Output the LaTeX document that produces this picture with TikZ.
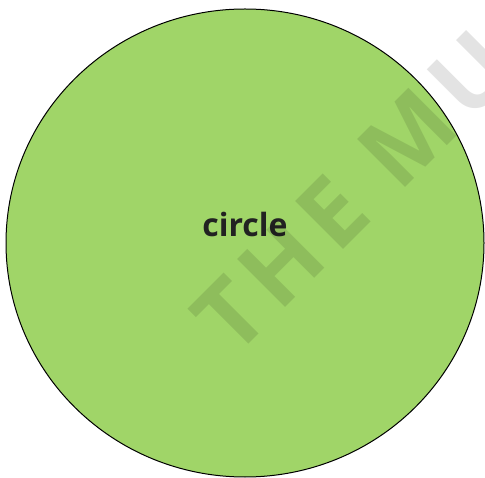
\documentclass[tikz,border=0pt]{standalone}
\usepackage{fontspec}
\setmainfont{Open Sans}
\newfontfamily\wmfont[LetterSpace=10]{Open Sans}
\definecolor{fillgreen}{HTML}{A0D568}
\definecolor{textdark}{HTML}{222222}
\begin{document}
\begin{tikzpicture}[x=1pt,y=1pt,
  shapeline/.style={draw=black, line width=1pt, fill=fillgreen},
  labeltext/.style={font=\fontsize{32}{32}\selectfont\bfseries, text=textdark, inner sep=0pt},
  watermark/.style={font=\wmfont\fontsize{95}{95}\selectfont\bfseries, text=black, text opacity=0.11, inner sep=0pt, rotate=45, anchor=base west}]
\useasboundingbox (0,0) rectangle (485,477);
\begin{scope}
\clip (0,0) rectangle (485,477);
\draw[shapeline] (245,234) ellipse [x radius=239, y radius=234];
\node[labeltext, anchor=base] (lbl) at (245,240) {circle};
\node[watermark] (wm) at (234,118) {THE MU};
\end{scope}
\end{tikzpicture}
\end{document}
